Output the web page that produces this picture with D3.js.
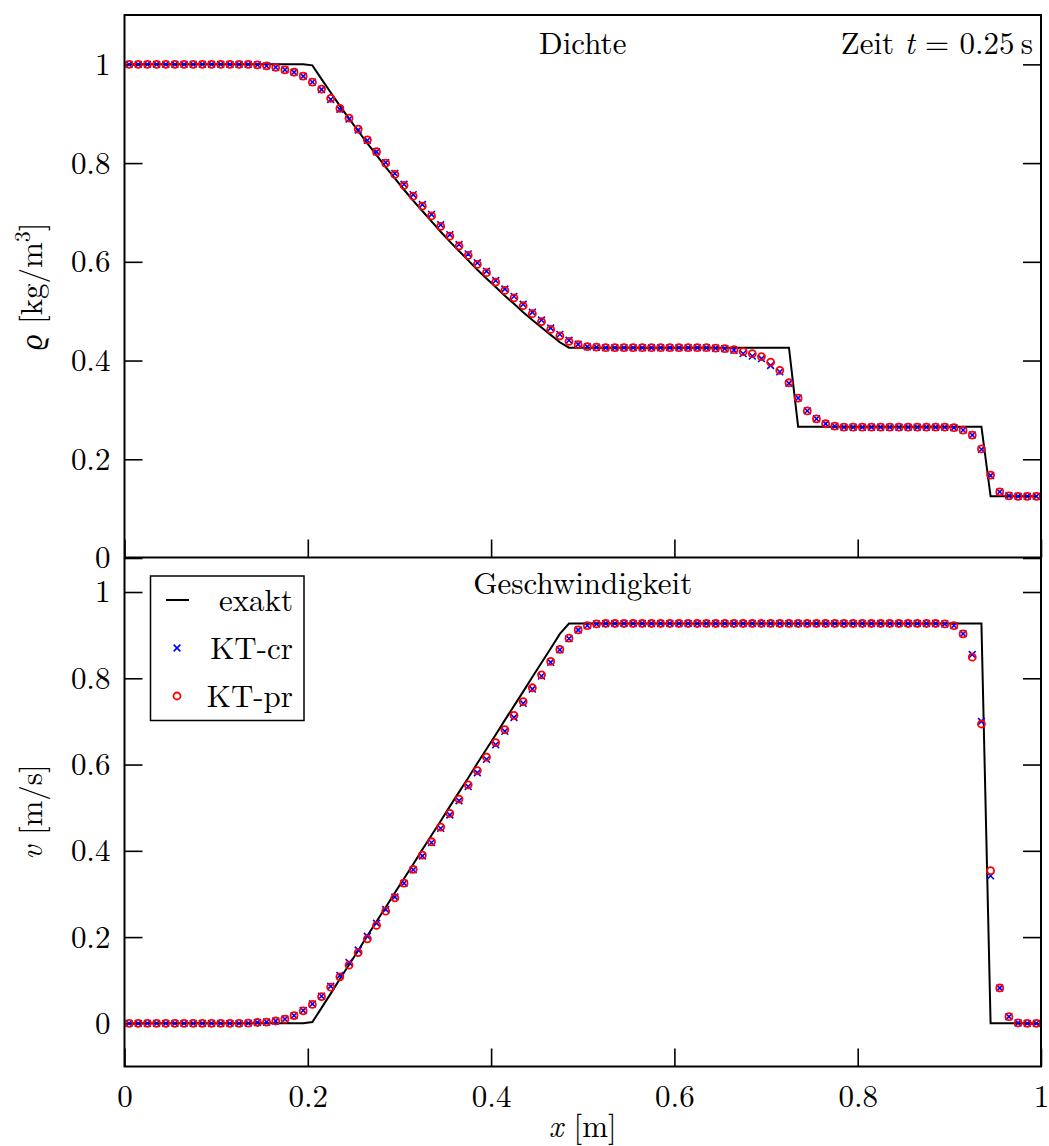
<!DOCTYPE html>
<html><head><meta charset="utf-8">
<script src="https://cdn.jsdelivr.net/npm/d3@7"></script>
<style>
body{margin:0;background:#fff}
svg{display:block}
</style>
</head><body><svg id="c" width="1049" height="1146"></svg>
<script>
// ---------- data ----------
const xCells = [
0.005,0.015,0.025,0.035,0.045,0.055,0.065,0.075,0.085,0.095,
0.105,0.115,0.125,0.135,0.145,0.155,0.165,0.175,0.185,0.195,
0.205,0.215,0.225,0.235,0.245,0.255,0.265,0.275,0.285,0.295,
0.305,0.315,0.325,0.335,0.345,0.355,0.365,0.375,0.385,0.395,
0.405,0.415,0.425,0.435,0.445,0.455,0.465,0.475,0.485,0.495,
0.505,0.515,0.525,0.535,0.545,0.555,0.565,0.575,0.585,0.595,
0.605,0.615,0.625,0.635,0.645,0.655,0.665,0.675,0.685,0.695,
0.705,0.715,0.725,0.735,0.745,0.755,0.765,0.775,0.785,0.795,
0.805,0.815,0.825,0.835,0.845,0.855,0.865,0.875,0.885,0.895,
0.905,0.915,0.925,0.935,0.945,0.955,0.965,0.975,0.985,0.995];

const rhoPr = [
1,1,1,1,1,1,1,1,1,1,
1,1,1,1,0.999,0.997,0.994,0.989,0.984,0.976,
0.964,0.950,0.931,0.911,0.891,0.869,0.847,0.823,0.800,0.777,
0.755,0.733,0.713,0.693,0.672,0.652,0.632,0.613,0.595,0.578,
0.559,0.542,0.527,0.511,0.495,0.479,0.463,0.450,0.439,0.432,
0.428,0.427,0.426,0.426,0.426,0.426,0.426,0.426,0.426,0.426,
0.426,0.426,0.426,0.426,0.425,0.424,0.422,0.418,0.414,0.408,
0.397,0.380,0.355,0.324,0.298,0.282,0.272,0.267,0.265,0.265,
0.265,0.265,0.265,0.265,0.265,0.265,0.265,0.265,0.265,0.265,
0.264,0.259,0.249,0.221,0.168,0.134,0.126,0.125,0.125,0.125];

const rhoCr = [
1,1,1,1,1,1,1,1,1,1,
1,1,1,1,0.999,0.997,0.994,0.989,0.984,0.976,
0.964,0.949,0.929,0.909,0.889,0.867,0.846,0.823,0.801,0.779,
0.757,0.736,0.716,0.696,0.675,0.655,0.635,0.616,0.598,0.581,
0.562,0.545,0.530,0.514,0.498,0.482,0.466,0.453,0.441,0.433,
0.428,0.427,0.426,0.426,0.426,0.426,0.426,0.426,0.426,0.426,
0.426,0.426,0.426,0.426,0.425,0.424,0.421,0.414,0.409,0.404,
0.390,0.377,0.354,0.324,0.298,0.282,0.272,0.267,0.265,0.265,
0.265,0.265,0.265,0.265,0.265,0.265,0.265,0.265,0.265,0.265,
0.264,0.259,0.249,0.220,0.167,0.134,0.126,0.125,0.125,0.125];

const vPr = [
0,0,0,0,0,0,0,0,0,0,
0,0,0,0.0005,0.002,0.003,0.0055,0.010,0.018,0.029,
0.044,0.062,0.084,0.108,0.135,0.164,0.196,0.227,0.260,0.291,
0.325,0.357,0.390,0.421,0.455,0.487,0.520,0.553,0.586,0.617,
0.651,0.681,0.714,0.746,0.778,0.808,0.839,0.867,0.893,0.912,
0.922,0.926,0.927,0.927,0.927,0.927,0.927,0.927,0.927,0.927,
0.927,0.927,0.927,0.927,0.927,0.927,0.927,0.927,0.927,0.927,
0.927,0.927,0.927,0.927,0.927,0.927,0.927,0.927,0.927,0.927,
0.927,0.927,0.927,0.927,0.927,0.927,0.927,0.927,0.927,0.926,
0.922,0.903,0.849,0.694,0.354,0.082,0.0155,0.001,0,0];

const vCr = [
0,0,0,0,0,0,0,0,0,0,
0,0,0,0.0005,0.002,0.003,0.0055,0.010,0.018,0.030,
0.045,0.063,0.086,0.111,0.141,0.170,0.202,0.232,0.264,0.293,
0.325,0.356,0.388,0.419,0.452,0.483,0.516,0.549,0.581,0.612,
0.646,0.677,0.709,0.742,0.775,0.805,0.837,0.866,0.892,0.912,
0.922,0.926,0.927,0.927,0.927,0.927,0.927,0.927,0.927,0.927,
0.927,0.927,0.927,0.927,0.927,0.927,0.927,0.927,0.927,0.927,
0.927,0.927,0.927,0.927,0.927,0.927,0.927,0.927,0.927,0.927,
0.927,0.927,0.927,0.927,0.927,0.927,0.927,0.927,0.927,0.926,
0.922,0.903,0.855,0.700,0.342,0.082,0.0155,0.001,0,0];

// exact solution, polyline vertices
const exactX = [0.005,0.195,
0.205,0.215,0.225,0.235,0.245,0.255,0.265,0.275,0.285,0.295,
0.305,0.315,0.325,0.335,0.345,0.355,0.365,0.375,0.385,0.395,
0.405,0.415,0.425,0.435,0.445,0.455,0.465,0.475,
0.485,0.725,0.735,0.935,0.945,0.995];
const exactRho = [1,1,
0.998,0.970,0.943,0.916,0.890,0.865,0.840,0.816,0.792,0.769,
0.746,0.724,0.703,0.682,0.661,0.641,0.622,0.603,0.584,0.566,
0.549,0.531,0.515,0.498,0.482,0.467,0.452,0.437,
0.426,0.426,0.266,0.266,0.125,0.125];
const exactV = [0,0,
0.003,0.036,0.069,0.103,0.136,0.169,0.203,0.236,0.269,0.303,
0.336,0.369,0.403,0.436,0.469,0.503,0.536,0.569,0.603,0.636,
0.669,0.703,0.736,0.769,0.803,0.836,0.869,0.903,
0.927,0.927,0.927,0.927,0,0];

const xTicks = [0,0.2,0.4,0.6,0.8,1];
const xTickLabels = ["0","0.2","0.4","0.6","0.8","1"];
const yTicks = [0,0.2,0.4,0.6,0.8,1];
const yTickLabels = ["0","0.2","0.4","0.6","0.8","1"];
const legendLabels = ["exakt","KT-cr","KT-pr"];

// ---------- layout ----------
const FONT = '"Latin Modern Roman","CMU Serif","Liberation Serif",serif';
const L = 124.5, R = 1041;
const TOP = 15, MID = 557.5, BOT = 1066.5;
const FS = 31;
const svg = d3.select("#c");

const x = d3.scaleLinear().domain([0,1]).range([L,R]);
const yTop = d3.scaleLinear().domain([0,1.1]).range([558,15]);
const yBot = d3.scaleLinear().domain([-0.1,1.08]).range([BOT,MID]);

function T(sel){ return sel.style("font-family",FONT).attr("font-size",FS).attr("fill","#000"); }
function styleAxis(g){
  g.select(".domain").remove();
  g.selectAll(".tick line").attr("stroke","#000").attr("stroke-width",1.6);
  g.selectAll(".tick text").call(T);
}
const fmtY = (d)=> yTickLabels[yTicks.indexOf(d)];
const fmtX = (d)=> xTickLabels[xTicks.indexOf(d)];

// top panel axes
svg.append("g").attr("transform",`translate(${L},0)`)
  .call(d3.axisLeft(yTop).tickValues(yTicks).tickFormat(fmtY).tickSizeInner(-18).tickSizeOuter(0).tickPadding(14))
  .call(styleAxis);
svg.append("g").attr("transform",`translate(${R},0)`)
  .call(d3.axisRight(yTop).tickValues(yTicks).tickFormat("").tickSizeInner(-18).tickSizeOuter(0))
  .call(styleAxis);
svg.append("g").attr("transform",`translate(0,${MID})`)
  .call(d3.axisBottom(x).tickValues(xTicks).tickFormat("").tickSizeInner(-18).tickSizeOuter(0))
  .call(styleAxis);

// bottom panel axes
svg.append("g").attr("transform",`translate(${L},0)`)
  .call(d3.axisLeft(yBot).tickValues(yTicks).tickFormat(fmtY).tickSizeInner(-18).tickSizeOuter(0).tickPadding(14))
  .call(styleAxis);
svg.append("g").attr("transform",`translate(${R},0)`)
  .call(d3.axisRight(yBot).tickValues(yTicks).tickFormat("").tickSizeInner(-18).tickSizeOuter(0))
  .call(styleAxis);
svg.append("g").attr("transform",`translate(0,${BOT})`)
  .call(d3.axisBottom(x).tickValues(xTicks).tickFormat(fmtX).tickSizeInner(-18).tickSizeOuter(0).tickPadding(18))
  .call(styleAxis);

// data drawing
function drawPanel(yS, exactY, crY, prY){
  const line = d3.line().x((d,i)=>x(exactX[i])).y((d,i)=>yS(d));
  svg.append("path").datum(exactY).attr("d",line)
    .attr("fill","none").attr("stroke","#000").attr("stroke-width",2);
  svg.append("g").selectAll("path").data(crY).join("path")
    .attr("transform",(d,i)=>`translate(${x(xCells[i])},${yS(d)})`)
    .attr("d","M-3.4,-3.4L3.4,3.4M-3.4,3.4L3.4,-3.4")
    .attr("stroke","#0000ff").attr("stroke-width",1.6).attr("fill","none");
  svg.append("g").selectAll("circle").data(prY).join("circle")
    .attr("cx",(d,i)=>x(xCells[i])).attr("cy",d=>yS(d)).attr("r",3.5)
    .attr("fill","none").attr("stroke","#ff0000").attr("stroke-width",1.8);
}
drawPanel(yTop, exactRho, rhoCr, rhoPr);
drawPanel(yBot, exactV, vCr, vPr);

// frame
svg.append("rect").attr("x",L).attr("y",TOP).attr("width",R-L).attr("height",BOT-TOP)
  .attr("fill","none").attr("stroke","#000").attr("stroke-width",2);
svg.append("line").attr("x1",L).attr("x2",R).attr("y1",MID).attr("y2",MID)
  .attr("stroke","#000").attr("stroke-width",2);

// panel titles
svg.append("text").attr("x",(L+R)/2).attr("y",54).attr("text-anchor","middle").call(T).text("Dichte");
const zt = svg.append("text").attr("x",1033).attr("y",54).attr("text-anchor","end").call(T);
zt.append("tspan").text("Zeit ");
zt.append("tspan").attr("font-style","italic").text("t");
zt.append("tspan").text(" = 0.25\u2009s");
svg.append("text").attr("x",(L+R)/2).attr("y",594).attr("text-anchor","middle").call(T).text("Geschwindigkeit");

// axis titles
const yl1 = svg.append("text").attr("transform",`translate(42,${(TOP+MID)/2}) rotate(-90)`)
  .attr("text-anchor","middle").call(T);
yl1.append("tspan").attr("font-style","italic").text("\u03F1");
yl1.append("tspan").text(" [kg/m");
yl1.append("tspan").attr("font-size",22).attr("dy",-12).text("3");
yl1.append("tspan").attr("dy",12).text("]");

const yl2 = svg.append("text").attr("transform",`translate(42,${(MID+BOT)/2}) rotate(-90)`)
  .attr("text-anchor","middle").call(T);
yl2.append("tspan").attr("font-style","italic").text("v");
yl2.append("tspan").text(" [m/s]");

const xl = svg.append("text").attr("x",(L+R)/2).attr("y",1137).attr("text-anchor","middle").call(T);
xl.append("tspan").attr("font-style","italic").text("x");
xl.append("tspan").text(" [m]");

// legend
const lg = svg.append("g");
lg.append("rect").attr("x",150.5).attr("y",576).attr("width",153.5).attr("height",144.5)
  .attr("fill","#fff").attr("stroke","#000").attr("stroke-width",1.5);
const rowsY = [600,648,696];
lg.append("line").attr("x1",166).attr("x2",189).attr("y1",rowsY[0]).attr("y2",rowsY[0]).attr("stroke","#000").attr("stroke-width",2);
lg.append("path").attr("transform",`translate(177,${rowsY[1]})`).attr("d","M-3.4,-3.4L3.4,3.4M-3.4,3.4L3.4,-3.4")
  .attr("stroke","#0000ff").attr("stroke-width",1.6);
lg.append("circle").attr("cx",177).attr("cy",rowsY[2]).attr("r",3.5).attr("fill","none").attr("stroke","#ff0000").attr("stroke-width",1.8);
lg.selectAll("text.lt").data(legendLabels).join("text").attr("class","lt")
  .attr("x",293).attr("y",(d,i)=>rowsY[i]+11).attr("text-anchor","end").call(T).text(d=>d);
</script>
</body></html>
